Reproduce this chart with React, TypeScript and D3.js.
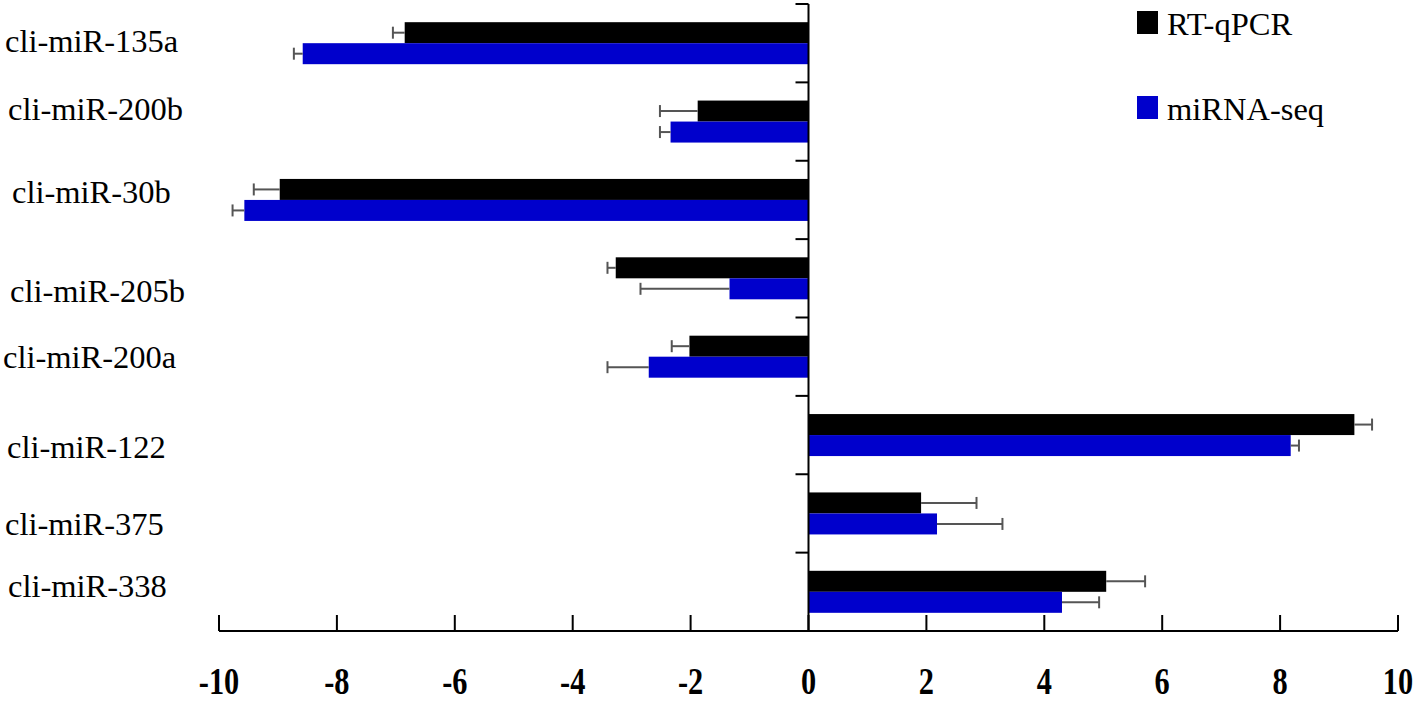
import React from "react";
import * as d3 from "d3";

const categories = [
  "cli-miR-135a",
  "cli-miR-200b",
  "cli-miR-30b",
  "cli-miR-205b",
  "cli-miR-200a",
  "cli-miR-122",
  "cli-miR-375",
  "cli-miR-338",
];
const seriesNames = ["RT-qPCR", "miRNA-seq"];
const seriesColors = ["#000000", "#0000cc"];
const rtqpcr = [-6.85, -1.88, -8.97, -3.27, -2.02, 9.26, 1.91, 5.05];
const rtqpcrErr = [0.2, 0.64, 0.44, 0.14, 0.3, 0.3, 0.94, 0.66];
const mirnaSeq = [-8.58, -2.34, -9.57, -1.34, -2.71, 8.18, 2.18, 4.3];
const mirnaSeqErr = [0.15, 0.18, 0.2, 1.51, 0.7, 0.14, 1.11, 0.63];
const xTicks = [-10, -8, -6, -4, -2, 0, 2, 4, 6, 8, 10];

// hand-placed label nudges from the original figure (style)
const labelDx = [5, 8, 12, 10, 3, 7, 5, 8];
const labelDy = [9, -1.5, 3, 23.5, 11, 22.5, 21.5, 5];

const W = 1418;
const H = 701;

export default function App() {
  const x = d3.scaleLinear().domain([-10, 10]).range([219, 1398]);
  const y = d3.scaleBand().domain(categories).range([4, 631]).padding(0);
  const groupH = 42;
  const ySub = d3.scaleBand().domain(seriesNames).range([0, groupH]).padding(0);
  const x0 = x(0);
  const axisY = 631;
  const values = [rtqpcr, mirnaSeq];
  const errs = [rtqpcrErr, mirnaSeqErr];
  const serif = "'Liberation Serif', 'Times New Roman', serif";

  const bandTicks = d3.range(categories.length + 1).map(
    (i) => 4 + i * y.step()
  );

  return (
    <svg
      width={W}
      height={H}
      style={{ position: "absolute", left: 0, top: 0, background: "#fff" }}
    >
      {/* bars */}
      {categories.map((c, i) => {
        const g0 = (y(c) as number) + (y.step() - groupH) / 2;
        return (
          <g key={c}>
            {seriesNames.map((s, k) => {
              const v = values[k][i];
              const e = errs[k][i];
              const by = g0 + (ySub(s) as number);
              const bh = ySub.bandwidth();
              const cy = by + bh / 2;
              const xe = v < 0 ? x(v - e) : x(v + e);
              return (
                <g key={s}>
                  <rect
                    x={Math.min(x0, x(v))}
                    y={by}
                    width={Math.abs(x(v) - x0)}
                    height={bh}
                    fill={seriesColors[k]}
                  />
                  <line x1={x(v)} x2={xe} y1={cy} y2={cy} stroke="#555" strokeWidth={2} />
                  <line x1={xe} x2={xe} y1={cy - 6} y2={cy + 6} stroke="#555" strokeWidth={2} />
                </g>
              );
            })}
          </g>
        );
      })}

      {/* y axis */}
      <line x1={x0} x2={x0} y1={4} y2={axisY} stroke="#000" strokeWidth={2} />
      {bandTicks.map((t, i) => (
        <line key={i} x1={x0 - 13} x2={x0} y1={t} y2={t} stroke="#000" strokeWidth={2} />
      ))}

      {/* x axis */}
      <line x1={x(-10)} x2={x(10)} y1={axisY} y2={axisY} stroke="#000" strokeWidth={2} />
      {xTicks.map((t) => (
        <g key={t}>
          <line x1={x(t)} x2={x(t)} y1={axisY} y2={axisY - 16} stroke="#000" strokeWidth={2} />
          <text
            transform={`translate(${x(t)},${694}) scale(0.92,1.12)`}
            textAnchor="middle"
            fontFamily={serif}
            fontWeight="bold"
            fontSize={33}
            fill="#000"
          >
            {String(t).replace("−", "-")}
          </text>
        </g>
      ))}

      {/* category labels */}
      {categories.map((c, i) => (
        <text
          key={c}
          x={labelDx[i]}
          y={(y(c) as number) + y.step() / 2 + labelDy[i]}
          fontFamily={serif}
          fontSize={32.5}
          fill="#000"
        >
          {c}
        </text>
      ))}

      {/* legend */}
      {seriesNames.map((s, k) => (
        <g key={s} transform={`translate(1137,${11 + k * 85})`}>
          <rect x={0} y={0} width={21} height={23} fill={seriesColors[k]} />
          <text x={30} y={24} fontFamily={serif} fontSize={32.5} fill="#000">
            {s}
          </text>
        </g>
      ))}
    </svg>
  );
}
